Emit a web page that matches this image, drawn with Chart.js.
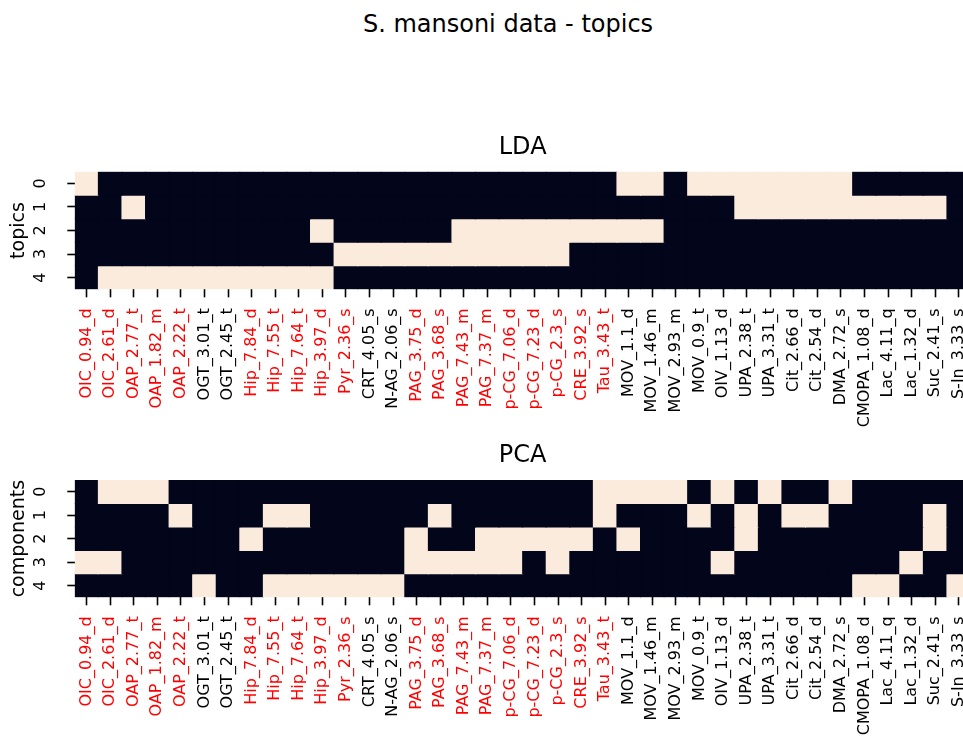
<!DOCTYPE html>
<html>
<head>
<meta charset="utf-8">
<script src="https://cdn.jsdelivr.net/npm/chart.js@4.4.0/dist/chart.umd.min.js"></script>
<style>
  html, body { margin: 0; padding: 0; background: #fff; overflow: hidden; width: 963px; height: 737px; }
  canvas { position: absolute; left: 0; }
  #lda { top: 0; }
  #pca { top: 420px; }
  #suptitle {
    position: absolute; left: 0; top: 11.7px; width: 1016px;
    text-align: center; font-family: 'DejaVu Sans'; font-size: 24px; line-height: 24px;
    color: #000; white-space: nowrap;
  }
</style>
</head>
<body>
<div id="suptitle">S. mansoni data - topics</div>
<canvas id="lda" width="1016" height="450"></canvas>
<canvas id="pca" width="1016" height="317"></canvas>
<script>
// Metabolite features (columns of both heatmaps)
const features = [
  'OIC_0.94_d', 'OIC_2.61_d', 'OAP_2.77_t', 'OAP_1.82_m', 'OAP_2.22_t', 'OGT_3.01_t', 'OGT_2.45_t',
  'Hip_7.84_d', 'Hip_7.55_t', 'Hip_7.64_t', 'Hip_3.97_d', 'Pyr_2.36_s', 'CRT_4.05_s', 'N-AG_2.06_s',
  'PAG_3.75_d', 'PAG_3.68_s', 'PAG_7.43_m', 'PAG_7.37_m', 'p-CG_7.06_d', 'p-CG_7.23_d', 'p-CG_2.3_s',
  'CRE_3.92_s', 'Tau_3.43_t', 'MOV_1.1_d', 'MOV_1.46_m', 'MOV_2.93_m', 'MOV_0.9_t', 'OIV_1.13_d',
  'UPA_2.38_t', 'UPA_3.31_t', 'Cit_2.66_d', 'Cit_2.54_d', 'DMA_2.72_s', 'CMOPA_1.08_d', 'Lac_4.11_q',
  'Lac_1.32_d', 'Suc_2.41_s', 'S-In_3.33_s'
];

// 1 = marker feature (label drawn in red), 0 = other
const markerFeature = [
  1, 1, 1, 1, 1, 0, 0, 1, 1, 1, 1, 1, 0, 0, 1, 1, 1, 1, 1, 1,
  1, 1, 1, 0, 0, 0, 0, 0, 0, 0, 0, 0, 0, 0, 0, 0, 0, 0
];

const rowLabels = ['0', '1', '2', '3', '4'];

// LDA topics: 1 = feature among the topic's top features
const ldaTopic0 = [1,0,0,0,0,0,0,0,0,0, 0,0,0,0,0,0,0,0,0,0, 0,0,0,1,1,0,1,1,1,1, 1,1,1,0,0,0,0,0];
const ldaTopic1 = [0,0,1,0,0,0,0,0,0,0, 0,0,0,0,0,0,0,0,0,0, 0,0,0,0,0,0,0,0,1,1, 1,1,1,1,1,1,1,0];
const ldaTopic2 = [0,0,0,0,0,0,0,0,0,0, 1,0,0,0,0,0,1,1,1,1, 1,1,1,1,1,0,0,0,0,0, 0,0,0,0,0,0,0,0];
const ldaTopic3 = [0,0,0,0,0,0,0,0,0,0, 0,1,1,1,1,1,1,1,1,1, 1,0,0,0,0,0,0,0,0,0, 0,0,0,0,0,0,0,0];
const ldaTopic4 = [0,1,1,1,1,1,1,1,1,1, 1,0,0,0,0,0,0,0,0,0, 0,0,0,0,0,0,0,0,0,0, 0,0,0,0,0,0,0,0];

// PCA components: 1 = feature among the component's top loadings
const pcaComp0 = [0,1,1,1,0,0,0,0,0,0, 0,0,0,0,0,0,0,0,0,0, 0,0,1,1,1,1,0,1,0,1, 0,0,1,0,0,0,0,0];
const pcaComp1 = [0,0,0,0,1,0,0,0,1,1, 0,0,0,0,0,1,0,0,0,0, 0,0,1,0,0,0,1,0,1,0, 1,1,0,0,0,0,1,0];
const pcaComp2 = [0,0,0,0,0,0,0,1,0,0, 0,0,0,0,1,0,0,1,1,1, 1,1,0,1,0,0,0,0,1,0, 0,0,0,0,0,0,1,0];
const pcaComp3 = [1,1,0,0,0,0,0,0,0,0, 0,0,0,0,1,1,1,1,1,0, 1,0,0,0,0,0,0,1,0,0, 0,0,0,0,0,1,0,0];
const pcaComp4 = [0,0,0,0,0,1,0,0,1,1, 1,1,1,1,0,0,0,0,0,0, 0,0,0,0,0,0,0,0,0,0, 0,0,0,1,1,0,0,1];

const LOW = '#03051a';
const HIGH = '#faebdd';
const FONT = 'DejaVu Sans';

function heatmap(canvasId, rows, cfg) {
  const datasets = rows.map((vals, r) => ({
    data: vals.map(() => [r, r + 1]),
    backgroundColor: vals.map(v => (v ? HIGH : LOW)),
    borderWidth: 0,
    inflateAmount: 0.5,
    barPercentage: 1,
    categoryPercentage: 1,
    grouped: false
  }));

  return new Chart(document.getElementById(canvasId), {
    type: 'bar',
    data: { labels: features, datasets },
    options: {
      responsive: false,
      animation: false,
      events: [],
      layout: { padding: { left: 0, right: 45.5, top: 0, bottom: 0 } },
      plugins: {
        legend: { display: false },
        tooltip: { enabled: false },
        title: {
          display: true,
          text: cfg.heading,
          color: '#000',
          fullSize: false,
          font: { family: FONT, size: 24, weight: 'normal' },
          padding: cfg.headingPadding
        }
      },
      scales: {
        x: {
          type: 'category',
          offset: true,
          border: { display: false },
          grid: {
            offset: false,
            drawOnChartArea: false,
            tickLength: 8,
            tickWidth: 1.6,
            tickColor: '#000'
          },
          ticks: {
            autoSkip: false,
            minRotation: 90,
            maxRotation: 90,
            padding: 11,
            font: { family: FONT, size: 16 },
            color: ctx => (markerFeature[ctx.index] ? '#ff0000' : '#000000')
          },
          afterFit: s => { s.height = cfg.xHeight; }
        },
        y: {
          type: 'linear',
          min: 0,
          max: rowLabels.length,
          reverse: true,
          border: { display: false },
          afterBuildTicks: s => { s.ticks = rowLabels.map((_, i) => ({ value: i + 0.5 })); },
          grid: {
            drawOnChartArea: false,
            tickLength: 7.5,
            tickWidth: 1.6,
            tickColor: '#000'
          },
          ticks: {
            autoSkip: false,
            minRotation: 90,
            maxRotation: 90,
            crossAlign: 'center',
            padding: 20.9,
            font: { family: FONT, size: 16 },
            color: '#000',
            callback: (v, i) => rowLabels[i]
          },
          title: {
            display: true,
            text: cfg.yTitle,
            color: '#000',
            font: { family: FONT, size: 19 },
            padding: { top: 8, bottom: 0 }
          },
          afterFit: s => { s.width = 74.8; }
        }
      }
    }
  });
}

heatmap('lda', [ldaTopic0, ldaTopic1, ldaTopic2, ldaTopic3, ldaTopic4], {
  heading: 'LDA',
  headingPadding: { top: 133.3, bottom: 9.6 },
  yTitle: 'topics',
  xHeight: 160.7
});

heatmap('pca', [pcaComp0, pcaComp1, pcaComp2, pcaComp3, pcaComp4], {
  heading: 'PCA',
  headingPadding: { top: 21.3, bottom: 9.9 },
  yTitle: 'components',
  xHeight: 139.7
});
</script>
</body>
</html>
